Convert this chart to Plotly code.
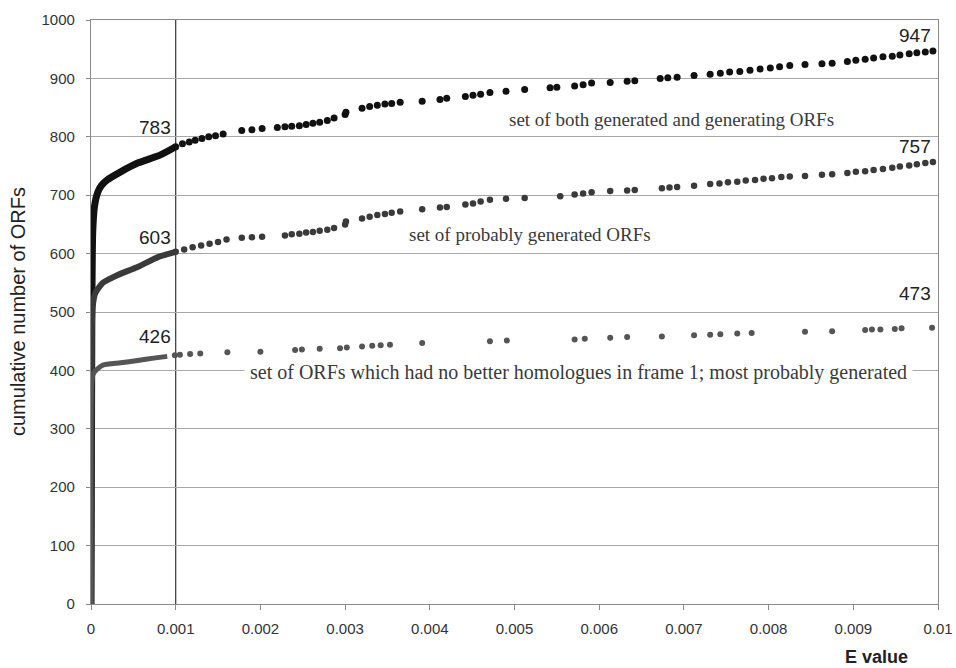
import plotly.graph_objects as go

# ---- set of both generated and generating ORFs -------------------------
# dense part of the curve (E < 0.001), drawn as a thick line
both_curve_e = [0, 0.00001, 0.00002, 0.00004, 0.00008, 0.00012, 0.00019,
                0.00035, 0.00055, 0.00065, 0.00082, 0.001]
both_curve_n = [0, 500, 635, 680, 705, 716, 726, 740, 755, 760, 769, 783]
# individual points beyond E = 0.001
both_e = [0.00100, 0.00108, 0.00116, 0.00123, 0.00131, 0.00139, 0.00147, 0.00156,
          0.00178, 0.00190, 0.00202,
          0.00220, 0.00229, 0.00237, 0.00246, 0.00254, 0.00262, 0.00270, 0.00279, 0.00287,
          0.00300, 0.00301,
          0.00320, 0.00329, 0.00338, 0.00347, 0.00355, 0.00365,
          0.00391, 0.00412, 0.00420,
          0.00442, 0.00451, 0.00460, 0.00471, 0.00490, 0.00512,
          0.00542, 0.00550, 0.00571, 0.00581, 0.00591, 0.00613,
          0.00633, 0.00642, 0.00672, 0.00681, 0.00692, 0.00712,
          0.00731, 0.00743, 0.00754, 0.00766, 0.00778, 0.00790, 0.00802, 0.00813, 0.00825,
          0.00843, 0.00863, 0.00875,
          0.00893, 0.00903, 0.00914, 0.00924, 0.00935, 0.00946, 0.00955, 0.00966, 0.00975,
          0.00985, 0.00994]
both_n = [783, 788, 791, 794, 797, 800, 802, 805,
          811, 812, 814,
          816, 817, 818, 819, 821, 823, 825, 828, 832,
          838, 842,
          849, 852, 854, 856, 857, 859,
          861, 864, 866,
          869, 871, 873, 876, 878, 881,
          884, 885, 887, 889, 892, 893,
          895, 896, 900, 901, 902, 905,
          907, 909, 911, 912, 914, 916, 918, 920, 922,
          924, 925, 926,
          929, 931, 933, 935, 937, 938, 940, 942, 944,
          945, 947]

# ---- set of probably generated ORFs ------------------------------------
prob_curve_e = [0, 0.00001, 0.00002, 0.00005, 0.00014, 0.00031, 0.00055, 0.00079, 0.001]
prob_curve_n = [0, 470, 509, 532, 550, 563, 577, 594, 603]
prob_e = [0.00100, 0.00110, 0.00120, 0.00130, 0.00140, 0.00150, 0.00160,
          0.00178, 0.00190, 0.00202,
          0.00229, 0.00237, 0.00246, 0.00254, 0.00262, 0.00270, 0.00279, 0.00287,
          0.00300, 0.00301,
          0.00320, 0.00329, 0.00338, 0.00347, 0.00355, 0.00365,
          0.00391, 0.00412, 0.00420,
          0.00442, 0.00451, 0.00460, 0.00471, 0.00490, 0.00512, 0.00554,
          0.00571, 0.00581, 0.00591, 0.00613, 0.00633, 0.00642,
          0.00674, 0.00683, 0.00692, 0.00712,
          0.00731, 0.00742, 0.00752, 0.00763, 0.00773, 0.00784, 0.00794, 0.00804, 0.00815, 0.00825,
          0.00843, 0.00863, 0.00875,
          0.00893, 0.00903, 0.00914, 0.00924, 0.00935, 0.00946, 0.00955, 0.00966, 0.00975,
          0.00985, 0.00994]
prob_n = [603, 607, 611, 614, 617, 620, 624,
          627, 628, 629,
          631, 633, 634, 636, 637, 639, 641, 644,
          650, 655,
          660, 663, 666, 668, 670, 672,
          676, 679, 680,
          684, 686, 689, 692, 694, 695, 698,
          701, 703, 705, 707, 708, 709,
          712, 713, 714, 716,
          719, 720, 722, 723, 725, 726, 728, 729, 731, 732,
          733, 735, 736,
          738, 740, 741, 743, 745, 747, 749, 751, 753,
          755, 757]

# ---- ORFs with no better homologues in frame 1 -------------------------
nohom_curve_e = [0, 0.00001, 0.00003, 0.00008, 0.00014, 0.00035, 0.00055, 0.00074, 0.00090]
nohom_curve_n = [0, 384, 395, 403, 409, 413, 417, 421, 424]
nohom_e = [0.00099, 0.00105, 0.00117, 0.00129, 0.00161, 0.00200,
           0.00241, 0.00249, 0.00270, 0.00294, 0.00302,
           0.00320, 0.00332, 0.00342, 0.00353, 0.00391,
           0.00471, 0.00491, 0.00571, 0.00583, 0.00613, 0.00633, 0.00674,
           0.00712, 0.00731, 0.00743, 0.00763, 0.00780,
           0.00843, 0.00875, 0.00914, 0.00922, 0.00932, 0.00949, 0.00957, 0.00993]
nohom_n = [426, 427, 428, 429, 431, 432,
           435, 436, 437, 438, 439,
           441, 442, 443, 444, 447,
           450, 451, 453, 454, 456, 457, 458,
           460, 461, 462, 463, 464,
           466, 467, 469, 470, 470, 471, 472, 473]

# axis ticks
x_tick_vals = [0, 0.001, 0.002, 0.003, 0.004, 0.005, 0.006, 0.007, 0.008, 0.009, 0.01]
x_tick_text = ["0", "0.001", "0.002", "0.003", "0.004", "0.005",
               "0.006", "0.007", "0.008", "0.009", "0.01"]
y_tick_vals = [0, 100, 200, 300, 400, 500, 600, 700, 800, 900, 1000]

# end-point values written on the chart
value_labels = [(0.001, 783, 7), (0.001, 603, 2), (0.001, 426, 6),
                (0.01, 947, 3), (0.01, 757, 3), (0.01, 473, 22)]

series_text = [
    ("set of both generated and generating ORFs", 0.00685, 829, False, 19),
    ("set of probably generated ORFs", 0.00518, 633, False, 19),
    ("set of ORFs which had no better homologues in frame 1; most probably generated",
     0.00576, 397, True, 20),
]

styles = [
    (both_curve_e, both_curve_n, both_e, both_n, "#111111", 7.0, 7.0),
    (prob_curve_e, prob_curve_n, prob_e, prob_n, "#3a3a3a", 6.0, 6.5),
    (nohom_curve_e, nohom_curve_n, nohom_e, nohom_n, "#555555", 5.0, 6.0),
]

fig = go.Figure()
for ce, cn, pe, pn, color, lw, ms in styles:
    fig.add_trace(go.Scatter(x=ce, y=cn, mode="lines",
                             line=dict(color=color, width=lw, shape="spline", smoothing=0.6),
                             cliponaxis=False, showlegend=False, hoverinfo="skip"))
    fig.add_trace(go.Scatter(x=pe, y=pn, mode="markers",
                             marker=dict(color=color, size=ms, line=dict(width=0)),
                             cliponaxis=False, showlegend=False))

annotations = []
for x, n, dy in value_labels:
    annotations.append(dict(
        x=x, y=n, xref="x", yref="y", text=str(n), showarrow=False,
        xanchor="right", yanchor="bottom", xshift=-3 if x < 0.005 else -5, yshift=dy,
        font=dict(family="Liberation Sans, Arial, sans-serif", size=19, color="#222222")))

for text, x, y, boxed, size in series_text:
    ann = dict(x=x, y=y, xref="x", yref="y", text=text, showarrow=False,
               xanchor="center", yanchor="middle",
               font=dict(family="Liberation Serif, Times New Roman, serif", size=size,
                         color="#3a3a3a"))
    if boxed:
        ann.update(bgcolor="white", borderpad=5)
    annotations.append(ann)

annotations.append(dict(
    x=0, y=0.5, xref="paper", yref="paper", text="cumulative number of ORFs",
    showarrow=False, textangle=-90, xanchor="center", yanchor="middle", xshift=-73,
    font=dict(family="Liberation Sans, Arial, sans-serif", size=20, color="#222222")))
annotations.append(dict(
    x=0.927, y=0, xref="paper", yref="paper", text="<b>E value</b>",
    showarrow=False, xanchor="center", yanchor="middle", yshift=-53,
    font=dict(family="Liberation Sans, Arial, sans-serif", size=18, color="#222222")))

fig.update_layout(
    width=956, height=668,
    margin=dict(l=91, r=18, t=20, b=64, autoexpand=False),
    paper_bgcolor="white", plot_bgcolor="white",
    annotations=annotations,
    shapes=[dict(type="line", xref="x", yref="y", x0=0.001, x1=0.001, y0=0, y1=1000,
                 line=dict(color="#333333", width=1.2), layer="below")],
    font=dict(family="Liberation Sans, Arial, sans-serif", size=15, color="#333333"),
)
fig.update_xaxes(
    range=[0, 0.01], tickmode="array", tickvals=x_tick_vals, ticktext=x_tick_text,
    showgrid=False, zeroline=False, automargin=False,
    showline=True, linecolor="#8a8a8a", linewidth=1.2, mirror=True,
    ticks="outside", ticklen=5, tickcolor="#8a8a8a", ticklabelstandoff=6,
    tickfont=dict(size=15, color="#333333"))
fig.update_yaxes(
    range=[0, 1000], tickmode="array", tickvals=y_tick_vals,
    showgrid=True, gridcolor="#a8a8a8", gridwidth=1, zeroline=False, automargin=False,
    showline=True, linecolor="#8a8a8a", linewidth=1.2, mirror=True,
    ticks="outside", ticklen=4, tickcolor="#8a8a8a", ticklabelstandoff=8,
    tickfont=dict(size=15, color="#333333"))

fig.write_html("out.html")
